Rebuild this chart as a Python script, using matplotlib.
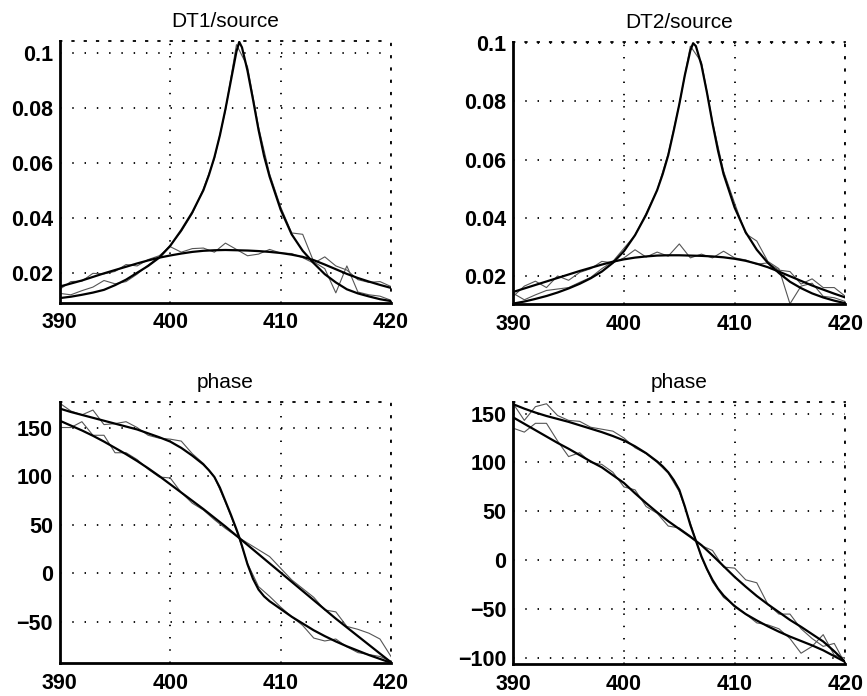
import matplotlib
matplotlib.use("Agg")
import matplotlib.pyplot as plt

plt.rcParams['font.family'] = ['Liberation Sans', 'DejaVu Sans']

# ---- common x grids ----
x_meas = list(range(390, 421))
x_broad = list(range(390, 421))
x_sharp = [390, 391, 392, 393, 394, 395, 396, 397, 398, 399, 400, 401, 402, 403,
           403.5, 404, 404.5, 405, 405.5, 406, 406.25, 406.5, 407, 407.5, 408,
           408.5, 409, 410, 411, 412, 413, 414, 415, 416, 417, 418, 419, 420]

# ---- DT1/source magnitude ----
dt1_sharp_fit = [0.0108, 0.0113, 0.0120, 0.0128, 0.0138, 0.0155, 0.0175, 0.0200, 0.0225,
                 0.0255, 0.0298, 0.0355, 0.0420, 0.0500, 0.0555, 0.0620, 0.0700, 0.0795,
                 0.0900, 0.1005, 0.1040, 0.1020, 0.0935, 0.0830, 0.0720, 0.0625, 0.0550,
                 0.0430, 0.0340, 0.0280, 0.0235, 0.0195, 0.0165, 0.0140, 0.0125, 0.0114,
                 0.0104, 0.0097]
dt1_broad_fit = [0.0150, 0.0161, 0.0172, 0.0185, 0.0198, 0.0210, 0.0222, 0.0234, 0.0245,
                 0.0255, 0.0263, 0.0270, 0.0276, 0.0280, 0.0282, 0.0283, 0.0282, 0.0281,
                 0.0279, 0.0276, 0.0272, 0.0266, 0.0258, 0.0246, 0.0230, 0.0213, 0.0196,
                 0.0181, 0.0168, 0.0156, 0.0145]
dt1_sharp_meas = [0.0125, 0.0120, 0.0135, 0.0148, 0.0172, 0.0160, 0.0168, 0.0195, 0.0228,
                  0.0258, 0.0300, 0.0350, 0.0415, 0.0505, 0.0615, 0.0790, 0.1030, 0.0950,
                  0.0730, 0.0560, 0.0440, 0.0345, 0.0340, 0.0240, 0.0215, 0.0127, 0.0225,
                  0.0130, 0.0120, 0.0115, 0.0100]
dt1_broad_meas = [0.0140, 0.0168, 0.0170, 0.0198, 0.0196, 0.0205, 0.0230, 0.0225, 0.0248,
                  0.0262, 0.0295, 0.0275, 0.0288, 0.0290, 0.0275, 0.0308, 0.0285, 0.0262,
                  0.0268, 0.0285, 0.0272, 0.0270, 0.0255, 0.0235, 0.0258, 0.0225, 0.0210,
                  0.0175, 0.0165, 0.0168, 0.0150]

# ---- DT2/source magnitude ----
dt2_sharp_fit = [0.0105, 0.0112, 0.0121, 0.0131, 0.0143, 0.0157, 0.0173, 0.0192, 0.0215,
                 0.0245, 0.0285, 0.0340, 0.0410, 0.0495, 0.0550, 0.0615, 0.0700, 0.0790,
                 0.0890, 0.0975, 0.1000, 0.0990, 0.0925, 0.0830, 0.0725, 0.0630, 0.0550,
                 0.0435, 0.0350, 0.0290, 0.0245, 0.0210, 0.0180, 0.0158, 0.0140, 0.0126,
                 0.0115, 0.0106]
dt2_broad_fit = [0.0145, 0.0157, 0.0169, 0.0181, 0.0193, 0.0205, 0.0217, 0.0228, 0.0239,
                 0.0249, 0.0257, 0.0263, 0.0267, 0.0270, 0.0271, 0.0271, 0.0270, 0.0269,
                 0.0267, 0.0264, 0.0259, 0.0252, 0.0242, 0.0230, 0.0215, 0.0199, 0.0183,
                 0.0167, 0.0153, 0.0139, 0.0126]
dt2_sharp_meas = [0.0140, 0.0118, 0.0135, 0.0150, 0.0155, 0.0160, 0.0178, 0.0195, 0.0225,
                  0.0250, 0.0295, 0.0340, 0.0415, 0.0495, 0.0620, 0.0790, 0.0990, 0.0935,
                  0.0730, 0.0560, 0.0450, 0.0345, 0.0320, 0.0250, 0.0225, 0.0104, 0.0165,
                  0.0175, 0.0130, 0.0125, 0.0112]
dt2_broad_meas = [0.0130, 0.0165, 0.0182, 0.0160, 0.0200, 0.0185, 0.0212, 0.0225, 0.0250,
                  0.0245, 0.0262, 0.0290, 0.0265, 0.0282, 0.0268, 0.0310, 0.0262, 0.0275,
                  0.0262, 0.0285, 0.0262, 0.0255, 0.0240, 0.0245, 0.0220, 0.0215, 0.0172,
                  0.0190, 0.0160, 0.0160, 0.0130]

# ---- DT1 phase ----
ph1_sharp_fit = [169.5, 166, 163, 160, 157, 154, 151, 148, 144, 140, 135.5, 129, 121, 112,
                 106, 99, 88, 74, 60, 45, 37, 28, 9, -6, -17, -24, -29, -37, -45, -52,
                 -59, -65, -70.5, -75.5, -80, -84.5, -88.5, -92.5]
ph1_broad_fit = [157, 152, 147, 141.5, 135.5, 129, 122.5, 115.5, 108, 100, 91.5, 83, 74.5,
                 66, 57, 48, 38.5, 29, 19.5, 10, 0.5, -9, -18.5, -28, -37.5, -47, -56,
                 -65, -74, -83, -92]
ph1_sharp_meas = [175, 167, 163, 168, 153, 154, 156, 150, 142, 139, 138, 136, 123, 113, 99,
                  73, 44, 10, -14, -24, -35, -45, -54, -67, -70, -68, -76, -82, -84, -86,
                  -91]
ph1_broad_meas = [150, 150, 156, 142, 142, 124, 124, 117, 107, 99, 98, 83, 72, 65, 55, 46,
                  38, 31, 24, 17, 5, -7, -16, -25, -38, -40, -55, -58, -62, -68, -86]

# ---- DT2 phase ----
ph2_sharp_fit = [159.5, 155, 151, 147.5, 144.5, 141.5, 138, 134.5, 131, 127, 122.5, 116.5,
                 109.5, 101, 96, 90, 82, 72, 55, 36, 28, 20, 4, -9, -20, -29, -36, -47,
                 -55, -61.5, -67.5, -73, -78, -82.5, -87, -92, -98, -104]
ph2_broad_fit = [146, 139.5, 133, 126.5, 120, 114, 107.5, 101, 95, 87, 79, 68.5, 58.5, 49,
                 40, 32, 24, 15.5, 5, -6, -17, -27, -36.5, -45, -53, -61, -68, -75.5, -83,
                 -93, -104]
ph2_sharp_meas = [160, 143, 157, 160, 148, 143, 142, 136, 134, 132, 125, 115, 109, 100, 89,
                  70, 38, 3, -22, -38, -46, -55, -64, -66, -70, -80, -95, -88, -76, -97,
                  -100]
ph2_broad_meas = [135, 131, 140, 140, 122, 106, 110, 100, 98, 90, 75, 72, 55, 48, 35, 33,
                  25, 15, 10, -7, -8, -20, -23, -45, -55, -55, -70, -80, -88, -85, -106]

titles = ["DT1/source", "DT2/source", "phase", "phase"]
x_ticks = [390, 400, 410, 420]
mag_ticks = [0.02, 0.04, 0.06, 0.08, 0.1]
mag_labels = ["0.02", "0.04", "0.06", "0.08", "0.1"]
ph1_ticks = [-50, 0, 50, 100, 150]
ph2_ticks = [-100, -50, 0, 50, 100, 150]


def int_labels(ticks):
    return [str(t).replace("-", "\u2212") for t in ticks]


panels = [
    dict(pos=[0.069, 0.565, 0.382, 0.376], sf=dt1_sharp_fit, bf=dt1_broad_fit,
         sm=dt1_sharp_meas, bm=dt1_broad_meas, ylim=(0.0091, 0.1043),
         yt=mag_ticks, yl=mag_labels),
    dict(pos=[0.592, 0.563, 0.383, 0.377], sf=dt2_sharp_fit, bf=dt2_broad_fit,
         sm=dt2_sharp_meas, bm=dt2_broad_meas, ylim=(0.0103, 0.1005),
         yt=mag_ticks, yl=mag_labels),
    dict(pos=[0.069, 0.047, 0.382, 0.375], sf=ph1_sharp_fit, bf=ph1_broad_fit,
         sm=ph1_sharp_meas, bm=ph1_broad_meas, ylim=(-93, 176),
         yt=ph1_ticks, yl=int_labels(ph1_ticks)),
    dict(pos=[0.592, 0.046, 0.383, 0.376], sf=ph2_sharp_fit, bf=ph2_broad_fit,
         sm=ph2_sharp_meas, bm=ph2_broad_meas, ylim=(-106, 161.5),
         yt=ph2_ticks, yl=int_labels(ph2_ticks)),
]

fig = plt.figure(figsize=(8.67, 6.96), dpi=100)
grid_style = dict(color="black", linestyle=(0, (0.8, 6)), linewidth=1.3)

for p, title in zip(panels, titles):
    ax = fig.add_axes(p["pos"])
    # measured (noisy) traces
    ax.plot(x_meas, p["bm"], color="#555555", lw=0.8)
    ax.plot(x_meas, p["sm"], color="#555555", lw=0.8)
    # fitted curves
    ax.plot(x_broad, p["bf"], color="black", lw=1.6)
    ax.plot(x_sharp, p["sf"], color="black", lw=1.6)

    ax.set_xlim(390, 420)
    ax.set_ylim(*p["ylim"])
    ax.set_xticks(x_ticks)
    ax.set_xticklabels([str(t) for t in x_ticks])
    ax.set_yticks(p["yt"])
    ax.set_yticklabels(p["yl"])
    ax.grid(True, **grid_style)
    ax.set_axisbelow(True)

    for side in ("top", "right"):
        ax.spines[side].set_linestyle((0, (0.8, 6)))
        ax.spines[side].set_linewidth(1.3)
    for side in ("left", "bottom"):
        ax.spines[side].set_linewidth(2.0)

    ax.tick_params(direction="in", length=0, labelsize=15.5)
    ax.tick_params(axis="y", pad=5)
    ax.tick_params(axis="x", pad=7)
    for lab in ax.get_xticklabels() + ax.get_yticklabels():
        lab.set_fontweight("bold")
    ax.set_title(title, fontsize=15, pad=10)

fig.savefig("out.png", dpi=100)
